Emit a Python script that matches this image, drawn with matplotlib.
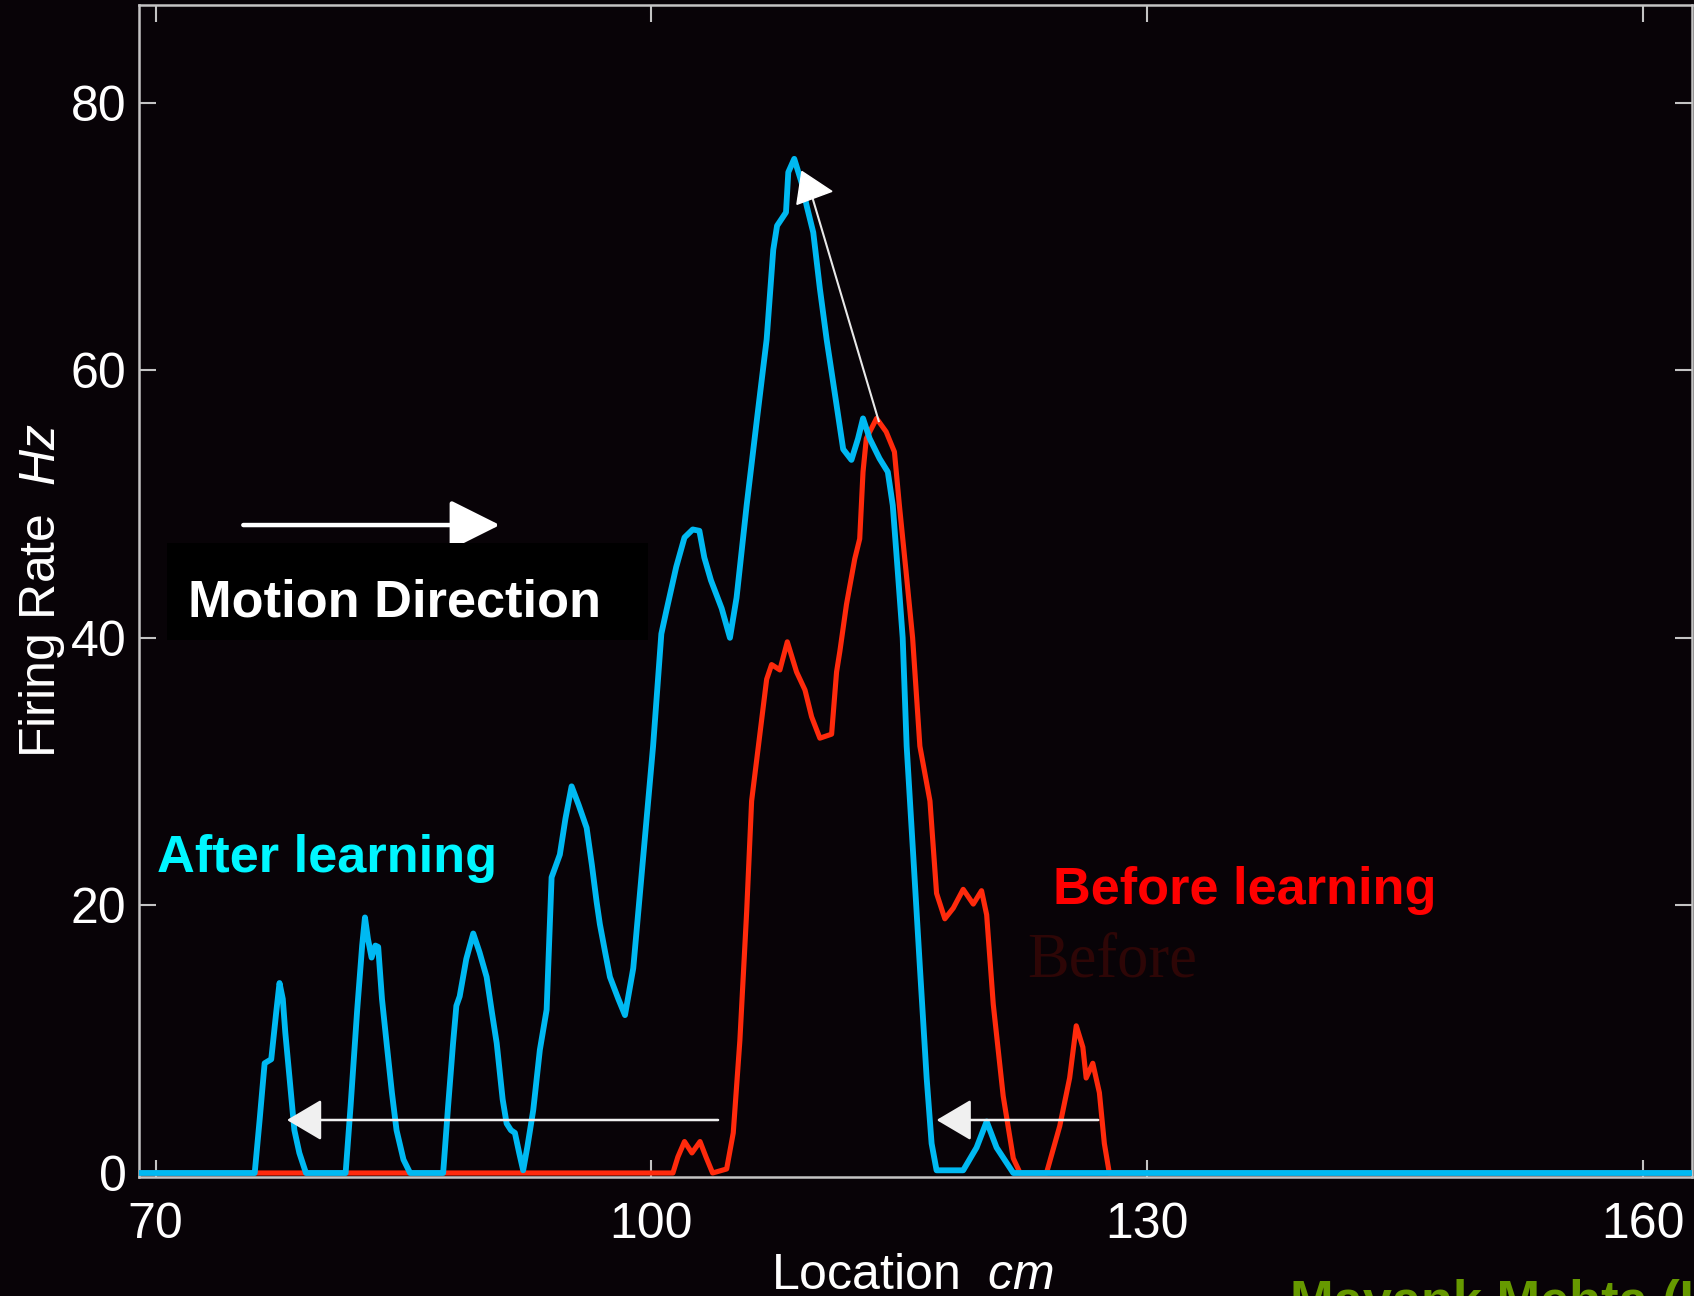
import matplotlib
matplotlib.use("Agg")
import matplotlib.pyplot as plt
from matplotlib import font_manager
from matplotlib.patches import FancyArrowPatch, Polygon, Rectangle

# ---------------- data ----------------
after_x = [69.0, 76.0, 76.3, 76.6, 77.0, 77.3, 77.5, 77.7, 77.85, 78.1, 78.4, 78.7, 79.1,
           81.5, 81.8, 82.2, 82.5, 82.67, 82.85, 83.07, 83.3, 83.47, 83.7, 83.98, 84.3, 84.58, 85.0, 85.4,
           87.4, 87.7, 88.0, 88.2, 88.4, 88.8, 89.22, 89.6, 90.03, 90.35, 90.64, 91.0, 91.24, 91.5, 91.74, 92.0, 92.24,
           92.5, 92.85, 93.25, 93.66, 93.96, 94.46, 94.8, 95.17, 95.6, 96.08, 96.4, 96.68, 96.88, 97.2, 97.49,
           98.0, 98.4, 98.9, 99.5, 100.1, 100.6, 100.9, 101.5, 102.0, 102.5, 102.9, 103.2, 103.6, 104.25, 104.75,
           105.15, 105.76, 106.36, 106.97, 107.37, 107.6, 108.14, 108.28, 108.64, 109.09, 109.39, 109.79, 110.19,
           110.6, 111.2, 111.6, 112.1, 112.5, 112.8, 113.2, 113.8, 114.3, 114.6, 114.9, 115.2, 115.44, 115.84,
           116.24, 116.65, 116.95, 117.25, 118.86, 119.67, 120.28, 120.88, 121.89, 163.0]
after_y = [0, 0, 4, 8.2, 8.5, 12, 14.2, 13, 10.5, 7.2, 3.2, 1.5, 0,
           0, 5, 12.2, 17, 19.1, 17.5, 16.1, 17, 16.9, 13, 9.7, 6, 3.2, 1, 0,
           0, 5, 9.7, 12.5, 13.2, 16, 17.9, 16.5, 14.65, 12, 9.7, 5.5, 3.7, 3.2, 3.0, 1.5, 0.2,
           2, 4.7, 9.2, 12.2, 22.1, 23.8, 26.5, 28.9, 27.5, 25.8, 23, 20.3, 18.6, 16.5, 14.65,
           13, 11.8, 15.3, 23.6, 31.9, 40.3, 42, 45.3, 47.5, 48.1, 48.0, 46.0, 44.3, 42.2, 40.0,
           43, 49.9, 56.1, 62.3, 69.0, 70.8, 71.8, 74.8, 75.8, 74.0, 72.3, 70.3, 66.1,
           62.3, 57.4, 54.1, 53.3, 54.9, 56.4, 54.9, 53.4, 52.4, 49.9, 45.0, 40.0, 31.9, 23.7,
           15.4, 7.1, 2.2, 0.2, 0.2, 1.9, 3.85, 1.9, 0, 0]

before_x = [69.0, 101.3, 101.6, 102.0, 102.45, 102.94, 103.3, 103.7, 104.55, 104.95, 105.35, 105.76,
            106.06, 106.56, 106.97, 107.27, 107.77, 108.22, 108.78, 109.29, 109.69, 110.19, 110.9, 111.2,
            111.4, 111.8, 112.3, 112.6, 112.8, 113.0, 113.62, 114.2, 114.7, 115.0, 115.4, 115.8, 116.24,
            116.85, 117.25, 117.75, 118.26, 118.86, 119.47, 119.97, 120.28, 120.68, 121.28, 121.89, 122.3,
            123.9, 124.7, 125.3, 125.7, 126.1, 126.3, 126.7, 127.1, 127.4, 127.7, 163.0]
before_y = [0, 0, 1.2, 2.35, 1.5, 2.35, 1.2, 0, 0.3, 3.0, 9.9, 19.5,
            27.8, 32.8, 36.9, 38.0, 37.6, 39.7, 37.45, 36.1, 34.1, 32.5, 32.8, 37.45,
            39.0, 42.5, 45.9, 47.4, 52.4, 54.9, 56.4, 55.4, 53.9, 49.9, 45.0, 40.0, 31.9,
            27.8, 20.9, 19.0, 19.8, 21.2, 20.1, 21.1, 19.3, 12.6, 5.75, 1.1, 0,
            0, 3.5, 7.1, 11.0, 9.4, 7.1, 8.2, 6.0, 2.2, 0, 0]

x_ticks = [70, 100, 130, 160]
y_ticks = [0, 20, 40, 60, 80]

# ---------------- style ----------------
names = {f.name for f in font_manager.fontManager.ttflist}
NARROW = 'Liberation Sans Narrow' if 'Liberation Sans Narrow' in names else 'Liberation Sans'
BOLD_SIZE = 42 if NARROW == 'Liberation Sans Narrow' else 37.7

plt.rcParams['font.family'] = ['Liberation Sans', 'DejaVu Sans']
plt.rcParams['mathtext.fontset'] = 'custom'
plt.rcParams['mathtext.rm'] = 'Liberation Sans'
plt.rcParams['mathtext.it'] = 'Liberation Sans:italic'

BG = '#080307'
AX = '#c4c4c4'
BLUE = '#00b9f2'
RED = '#ff2a0c'

fig = plt.figure(figsize=(16.94, 12.96), dpi=100, facecolor=BG)
ax = fig.add_axes([139 / 1694, 119 / 1296, 1553 / 1694, 1172 / 1296], facecolor=BG)

ax.plot(before_x, before_y, color=RED, lw=3.7, solid_joinstyle='round', zorder=3)
ax.plot(after_x, after_y, color=BLUE, lw=4.2, solid_joinstyle='round', zorder=4)

ax.set_xlim(69.0, 162.95)
ax.set_ylim(-0.3, 87.3)
ax.set_xticks(x_ticks)
ax.set_yticks(y_ticks)
ax.tick_params(axis='both', which='both', direction='in', length=12, width=1.5,
               color=AX, labelcolor='white', labelsize=36, top=True, right=True)
ax.tick_params(axis='x', pad=18)
ax.tick_params(axis='y', pad=9)
for s in ax.spines.values():
    s.set_color(AX)
    s.set_linewidth(1.8)

ax.set_xlabel(r'Location  $\mathit{cm}$', color='white', fontsize=36, va='baseline')
ax.xaxis.set_label_coords(0.498, -0.0955)
ax.set_ylabel(r'Firing Rate  $\mathit{Hz}$', color='white', fontsize=36, va='baseline')
ax.yaxis.set_label_coords(-0.0541, 0.5)

# ---------------- annotations ----------------
# Motion direction arrow + label box
ax.add_patch(FancyArrowPatch((75.31, 48.43), (90.83, 48.43), arrowstyle='-|>,head_length=31,head_width=15.5',
                             mutation_scale=1, color='white', lw=3.2, shrinkA=0, shrinkB=0, zorder=5))
ax.add_patch(Rectangle((70.67, 39.86), 99.81 - 70.67, 47.07 - 39.86, facecolor='black',
                       edgecolor='none', zorder=6))
ax.text(71.98, 41.6, 'Motion Direction', color='white', fontsize=BOLD_SIZE, fontweight='bold',
        family=[NARROW, 'DejaVu Sans'], va='baseline', ha='left', zorder=7)

ax.text(70.07, 22.47, 'After learning', color='#00f6ff', fontsize=BOLD_SIZE, fontweight='bold',
        family=[NARROW, 'DejaVu Sans'], va='baseline', ha='left', zorder=7)
ax.text(124.31, 20.1, 'Before learning', color='#ff0000', fontsize=BOLD_SIZE, fontweight='bold',
        family=[NARROW, 'DejaVu Sans'], va='baseline', ha='left', zorder=7)
ax.text(122.72, 14.65, 'Before', color='#2e0606', fontsize=45,
        family=['Liberation Serif', 'DejaVu Serif'], va='baseline', ha='left', zorder=2)

# lower left-pointing arrows
ax.add_patch(FancyArrowPatch((104.03, 3.96), (77.95, 3.96), arrowstyle='-|>,head_length=22,head_width=13',
                             mutation_scale=1, color='#f0f0f0', lw=1.8, shrinkA=0, shrinkB=0, zorder=8))
ax.add_patch(FancyArrowPatch((127.03, 3.96), (117.25, 3.96), arrowstyle='-|>,head_length=22,head_width=13',
                             mutation_scale=1, color='#f0f0f0', lw=1.8, shrinkA=0, shrinkB=0, zorder=8))

# diagonal line with triangular head near the peak
ax.plot([113.75, 109.77], [56.2, 72.77], color='#e8e8e8', lw=1.5, zorder=8)
ax.add_patch(Polygon([(108.80, 72.40), (109.10, 74.86), (110.92, 73.37)], closed=True,
                     facecolor='white', edgecolor='white', lw=1, zorder=9))

fig.text(1290 / 1694, -21 / 1296, 'Mayank Mehta (UCLA)', color='#669900', fontsize=BOLD_SIZE,
         fontweight='bold', family=[NARROW, 'DejaVu Sans'], va='baseline', ha='left')

fig.savefig('out.png', dpi=100, facecolor=BG)
